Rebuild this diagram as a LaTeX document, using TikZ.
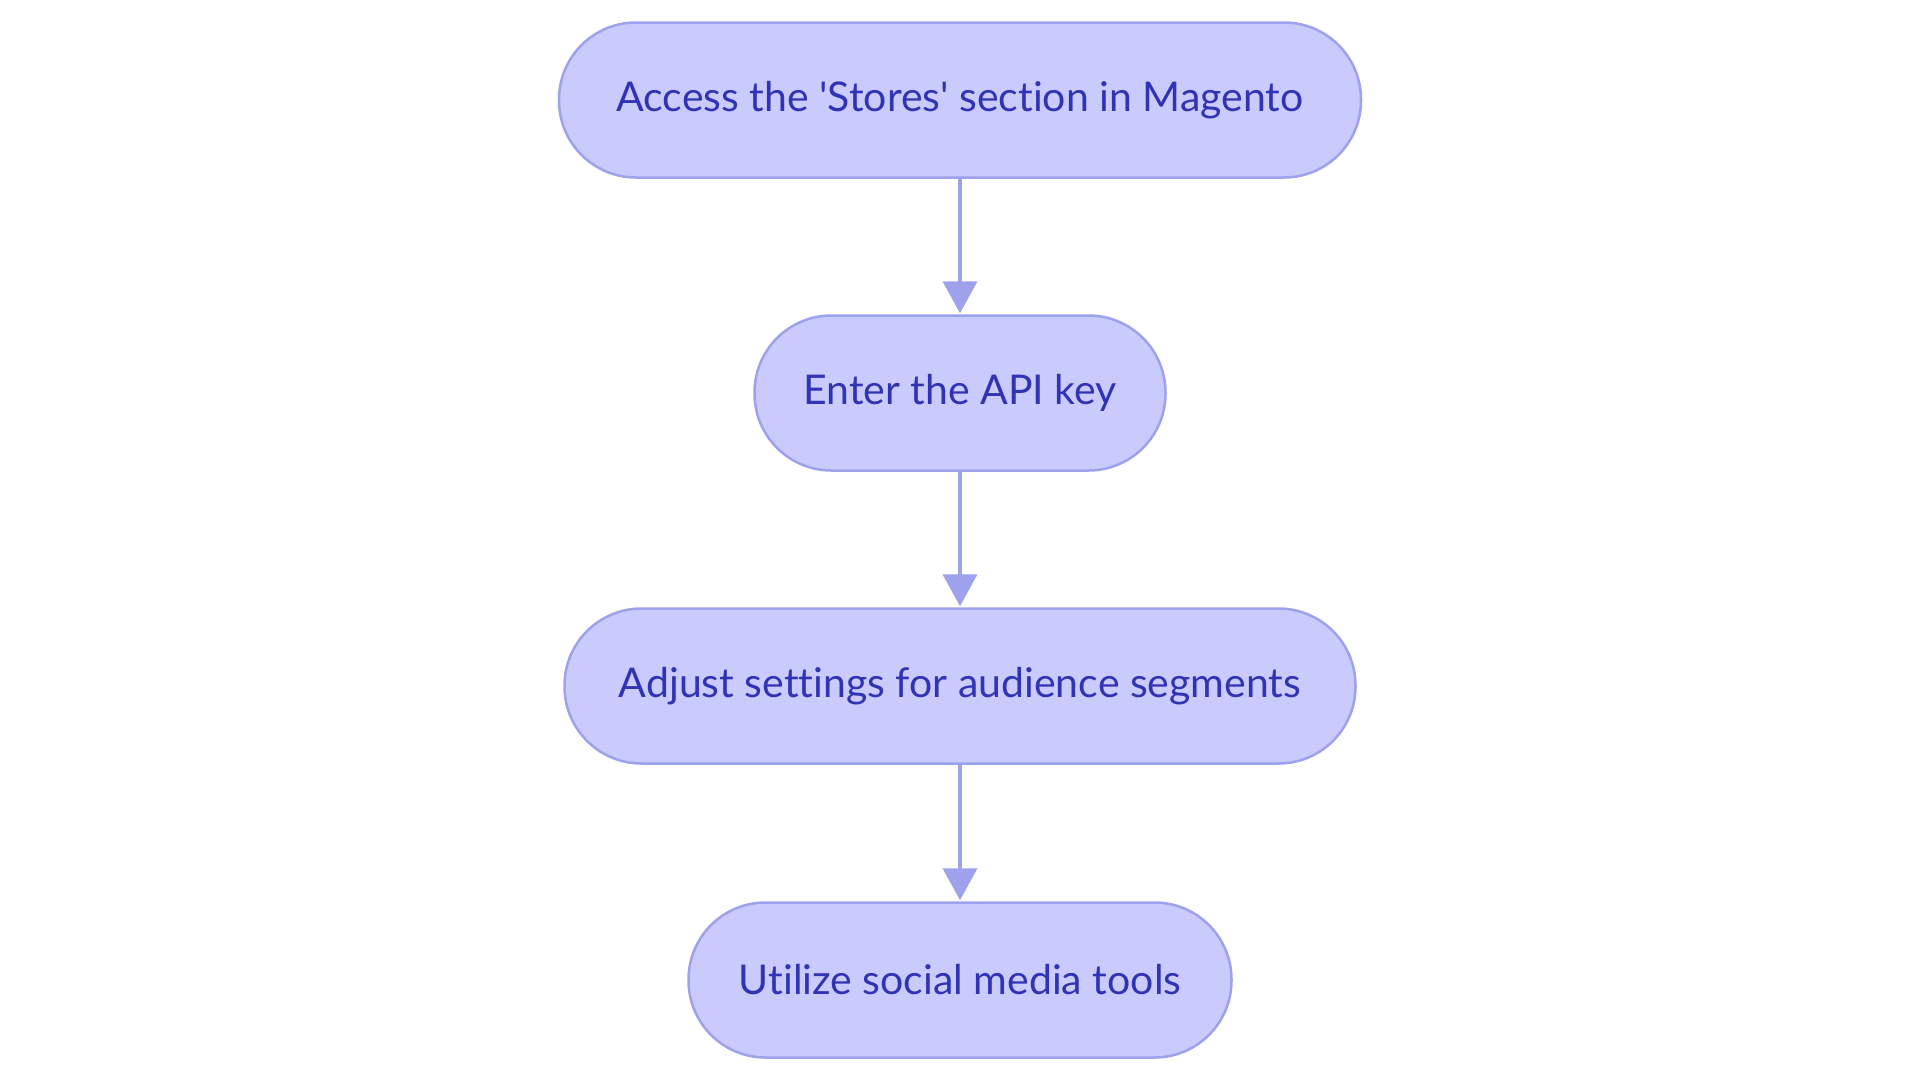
\documentclass[tikz,border=0pt]{standalone}
\usepackage{fontspec}
\setmainfont{Lato}[Ligatures={NoCommon,NoRare}]
\usetikzlibrary{arrows.meta}
\definecolor{boxfill}{HTML}{CACBFD}
\definecolor{boxline}{HTML}{9EA1EB}
\definecolor{boxtext}{HTML}{3033B3}
\begin{document}
\begin{tikzpicture}[x=1pt,y=-1pt,
  stadium/.style={draw=boxline, fill=boxfill, line width=2.5pt, rounded corners=77pt,
    minimum height=155pt, inner sep=0pt, text=boxtext,
    font=\fontsize{41}{46}\selectfont},
  flow/.style={draw=boxline, line width=4pt, -{Triangle[length=32pt,width=34pt]}, shorten >=1pt}]
\useasboundingbox[fill=white] (0,0) rectangle (1920,1080);
\node[stadium, minimum width=802pt] (a) at (960,100) {Access the \textquotesingle Stores\textquotesingle{} section in Magento};
\node[stadium, minimum width=411pt] (b) at (960,393) {Enter the API key};
\node[stadium, minimum width=791pt] (c) at (960,686) {Adjust settings for audience segments};
\node[stadium, minimum width=543pt] (d) at (960,980) {Utilize social media tools};
\draw[flow] (a) -- (b);
\draw[flow] (b) -- (c);
\draw[flow] (c) -- (d);
\end{tikzpicture}
\end{document}
